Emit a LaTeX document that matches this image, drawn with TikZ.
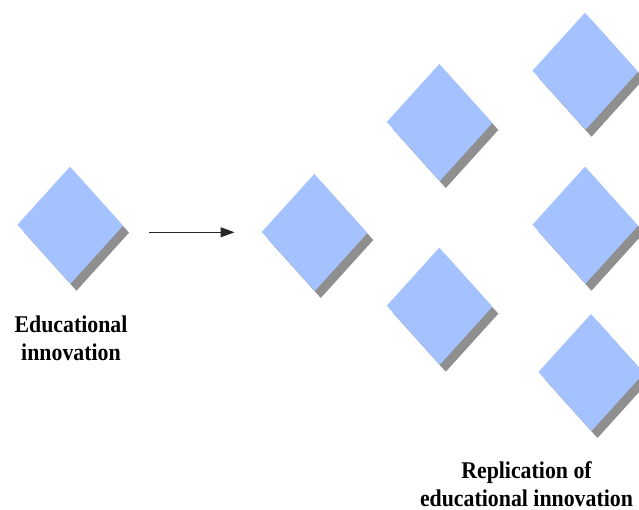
\documentclass[tikz,border=0pt]{standalone}
\usepackage{fontspec}
\setmainfont{Liberation Serif}
\newfontfamily\lblfont[FakeStretch=0.91]{Liberation Serif}
\usetikzlibrary{arrows.meta}
\definecolor{dfill}{HTML}{A4C2FF}
\definecolor{dshadow}{HTML}{8F8F8F}
\begin{document}
\begin{tikzpicture}[x=1pt,y=-1pt,
  shadowfill/.style={fill=dshadow},
  diamondfill/.style={fill=dfill},
  lbl/.style={font=\lblfont\bfseries\fontsize{24}{28}\selectfont, align=center, inner sep=0pt},
  arrowline/.style={draw=black!85, line width=1pt, -{Triangle[length=14pt,width=10pt]}}]
\useasboundingbox (0,0) rectangle (639,510);
\clip (0,0) rectangle (639,510);
\foreach \n/\x/\y in {d1/70/166.7, d2/314.3/174, d3/439.3/64, d4/439.3/247.7, d5/585/12.7, d6/585/166.7, d7/591/314} {
  \coordinate (\n) at (\x,\y);
  \begin{scope}[shift={(\x+6,\y+7)}]
    \path[shadowfill] (0,0) -- ++(-52.5,58) -- ++(53,59) -- ++(52.5,-58) -- cycle;
  \end{scope}
  \begin{scope}[shift={(\x,\y)}]
    \path[diamondfill] (0,0) -- ++(-52.5,58) -- ++(53,59) -- ++(52.5,-58) -- cycle;
  \end{scope}
}
\coordinate (a1) at (149,232.3);
\coordinate (a2) at (234.5,232.3);
\draw[arrowline] (a1) -- (a2);
\node[lbl, anchor=base] (src) at (71,360) {Educational\\innovation};
\node[lbl, anchor=base] (rep) at (526.5,506) {Replication of\\educational innovation};
\end{tikzpicture}
\end{document}
